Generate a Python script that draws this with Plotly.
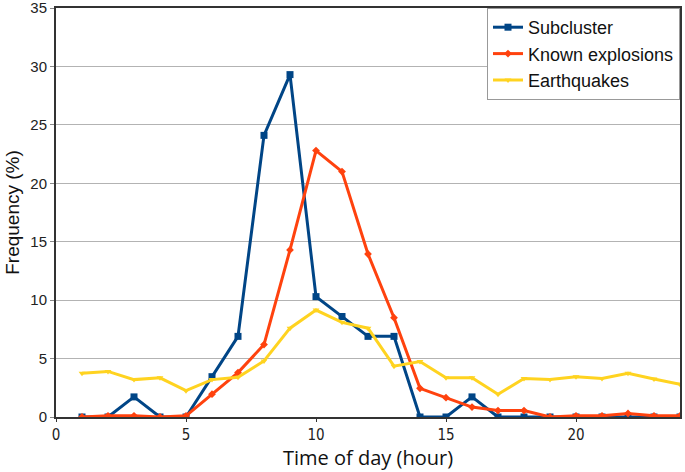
import plotly.graph_objects as go

hours = list(range(1, 25))
subcluster = [0, 0, 1.72, 0, 0, 3.45, 6.9, 24.1, 29.3, 10.3, 8.6, 6.9, 6.9, 0, 0, 1.72, 0, 0, 0, 0, 0, 0, 0, 0]
explosions = [0, 0.1, 0.1, 0, 0.1, 1.95, 3.8, 6.2, 14.3, 22.8, 21.0, 13.95, 8.5, 2.45, 1.65, 0.85, 0.55, 0.55, 0, 0.1, 0.1, 0.3, 0.1, 0.1]
earthquakes = [3.75, 3.9, 3.2, 3.35, 2.25, 3.2, 3.4, 4.8, 7.6, 9.15, 8.1, 7.6, 4.35, 4.75, 3.35, 3.35, 1.95, 3.3, 3.2, 3.45, 3.3, 3.75, 3.25, 2.8]

x_ticks = [0, 5, 10, 15, 20]
y_ticks = [0, 5, 10, 15, 20, 25, 30, 35]

fig = go.Figure()
fig.add_trace(go.Scatter(x=hours, y=subcluster, name="Subcluster", mode="lines+markers",
                         line=dict(color="#004586", width=3),
                         marker=dict(symbol="square", size=7, color="#004586")))
fig.add_trace(go.Scatter(x=hours, y=explosions, name="Known explosions", mode="lines+markers",
                         line=dict(color="#ff420e", width=3),
                         marker=dict(symbol="diamond", size=6, color="#ff420e")))
fig.add_trace(go.Scatter(x=hours, y=earthquakes, name="Earthquakes", mode="lines+markers",
                         line=dict(color="#ffd320", width=3),
                         marker=dict(symbol="triangle-down", size=6, color="#ffd320")))

fig.update_layout(
    width=685, height=472,
    margin=dict(l=56, r=5, t=8, b=55, autoexpand=False),
    paper_bgcolor="white", plot_bgcolor="white",
    font=dict(family="Liberation Sans, Arial, sans-serif", size=14, color="#222"),
    legend=dict(x=1, y=1, xanchor="right", yanchor="top",
                bordercolor="#999", borderwidth=1, bgcolor="white",
                font=dict(family="Liberation Sans, Arial, sans-serif", size=18, color="#111"),
                itemwidth=30, tracegroupgap=0),
    xaxis=dict(range=[0, 24], tickvals=x_ticks, showgrid=False, automargin=False,
               showline=True, linecolor="#333", linewidth=2, mirror=True,
               ticks="outside", ticklen=3, tickcolor="#333",
               tickfont=dict(family="DejaVu Sans Condensed, DejaVu Sans, sans-serif", size=15),
               title=dict(text="Time of day (hour)", standoff=8,
                          font=dict(family="Open Sans, sans-serif", size=20, color="#111")),
               zeroline=False),
    yaxis=dict(range=[0, 35], tickvals=y_ticks, showgrid=True, gridcolor="#b3b3b3", gridwidth=1,
               showline=True, linecolor="#333", linewidth=2, mirror=True, automargin=False,
               ticks="outside", ticklen=4, tickcolor="#888", ticklabeloverflow="allow",
               tickfont=dict(family="Liberation Sans, Arial, sans-serif", size=15),
               title=dict(text="Frequency (%)", standoff=6,
                          font=dict(family="Liberation Sans, Arial, sans-serif", size=19, color="#111")),
               zeroline=False),
)

fig.write_html("out.html", config={"displayModeBar": False},
               post_script="document.body.style.margin='0';")
